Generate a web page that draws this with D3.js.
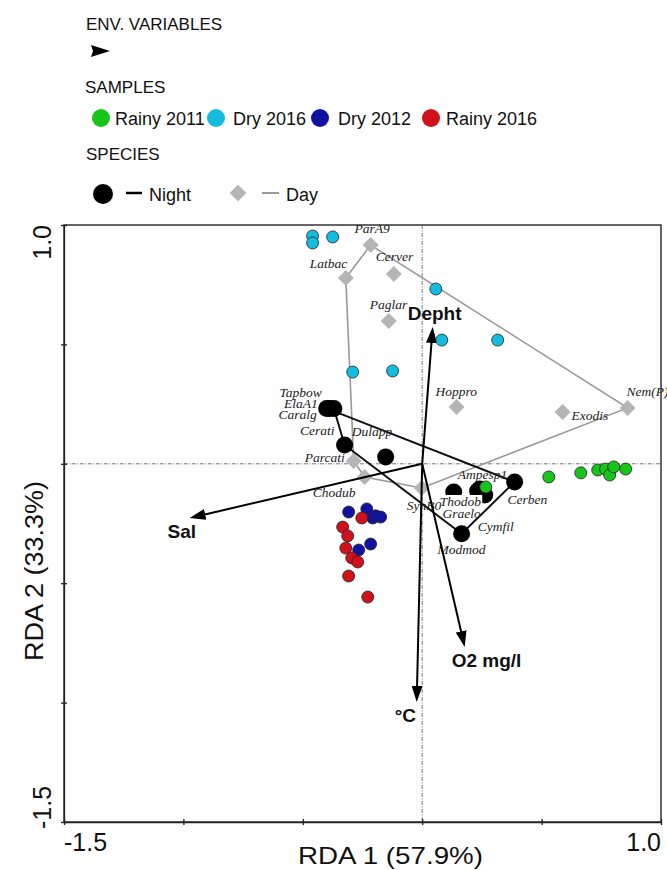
<!DOCTYPE html>
<html>
<head>
<meta charset="utf-8">
<script src="https://cdn.jsdelivr.net/npm/d3@7"></script>
<style>
  body { margin: 0; background: #fff; }
  svg { display: block; }
</style>
</head>
<body>
<div id="chart"></div>
<script>
// ---- data (RDA1, RDA2 scores) ----
const sampleGroups = ["Rainy 2011", "Dry 2016", "Dry 2012", "Rainy 2016"];
const rainy2011 = [[0.266,-0.097],[0.530,-0.055],[0.664,-0.038],[0.735,-0.026],[0.768,-0.022],[0.785,-0.047],[0.802,-0.013],[0.852,-0.022]];
const dry2016 = [[-0.459,0.954],[-0.459,0.925],[-0.375,0.950],[0.057,0.732],[0.082,0.518],[0.316,0.518],[-0.291,0.384],[-0.124,0.389]];
const dry2012 = [[-0.308,-0.202],[-0.232,-0.189],[-0.207,-0.227],[-0.195,-0.218],[-0.174,-0.223],[-0.266,-0.361],[-0.216,-0.336]];
const rainy2016 = [[-0.253,-0.227],[-0.333,-0.265],[-0.312,-0.302],[-0.320,-0.353],[-0.295,-0.394],[-0.270,-0.411],[-0.308,-0.470],[-0.228,-0.558]];

const nightSpecies = [["Tapbow",-0.400,0.232],["ElaA1",-0.387,0.232],["Caralg",-0.370,0.232],["Cerati",-0.325,0.079],
  ["Dulapp",-0.153,0.028],["Thodob",0.132,-0.118],["Ampesp1",0.241,-0.106],["Graelo",0.232,-0.114],
  ["Cymfil",0.262,-0.131],["Cerben",0.387,-0.076],["Modmod",0.165,-0.293]];
const daySpecies = [["ParA9",-0.216,0.916],["Latbac",-0.320,0.778],["Cerver",-0.119,0.795],["Paglar",-0.140,0.598],
  ["Hoppro",0.144,0.238],["Exodis",0.588,0.217],["Nem(P)",0.860,0.234],["Parcati",-0.287,0.012],
  ["Chodub",-0.241,-0.055],["SynB0",-0.002,-0.101]];

const nightHull = ["Tapbow","Cerben","Modmod","Cerati","Caralg"];
const dayHull = ["ParA9","Nem(P)","SynB0","Chodub","Parcati","Latbac"];

const envNames = ["Depht","Sal","O2 mg/l","°C"];
const envRda1 = [0.044,-0.974,0.178,-0.023];
const envRda2 = [0.573,-0.227,-0.767,-0.997];

const axisTicks = [-1.5,-1,-0.5,0,0.5,1];
const tickLabels = ["-1.5","1.0"];

// ---- layout ----
const colors = {"Rainy 2011":"#17c41a","Dry 2016":"#14bde0","Dry 2012":"#1212a2","Rainy 2016":"#d0111b"};
// label offsets from the point, in px [dx, dy, anchor]
const labelPos = {
  Tapbow:[-5,-11,"end"], ElaA1:[-12,0,"end"], Caralg:[-17,11,"end"], Cerati:[-10,-10,"end"],
  Dulapp:[-34,-21,"start"], Ampesp1:[-22,-10,"start"], Thodob:[-14,14,"start"], Graelo:[-35,27,"start"],
  Cymfil:[-7,36,"start"], Cerben:[-7,22,"start"], Modmod:[-24,20,"start"],
  ParA9:[-16,-12,"start"], Latbac:[-36,-10,"start"], Cerver:[-18,-13,"start"], Paglar:[-19,-12,"start"],
  Hoppro:[-21,-11,"start"], Exodis:[9,8,"start"], "Nem(P)":[-1,-12,"start"], Parcati:[-9,1,"end"],
  Chodub:[-52,20,"start"], SynB0:[-15,22,"start"]
};
const envLabelPos = {"Depht":[-25,-7],"Sal":[-22,20],"O2 mg/l":[-13,20],"°C":[-22,20]};

const W = 667, H = 870;
const svg = d3.select('#chart').append('svg').attr('width', W).attr('height', H);

const x = d3.scaleLinear().domain([-1.5, 1]).range([64, 661]);
const y = d3.scaleLinear().domain([-1.5, 1]).range([822, 225]);

// frame
svg.append('rect')
  .attr('x', x(-1.5)).attr('y', y(1))
  .attr('width', x(1) - x(-1.5)).attr('height', y(-1.5) - y(1))
  .attr('fill', 'none').attr('stroke', '#333').attr('stroke-width', 1.5);

// zero lines
svg.append('line').attr('x1', x(0)).attr('x2', x(0)).attr('y1', y(1)).attr('y2', y(-1.5))
  .attr('stroke', '#555').attr('stroke-width', 0.8).attr('stroke-dasharray', '4,1.5,1,1.5');
svg.append('line').attr('x1', x(-1.5)).attr('x2', x(1)).attr('y1', y(0)).attr('y2', y(0))
  .attr('stroke', '#555').attr('stroke-width', 0.8).attr('stroke-dasharray', '4,1.5,1,1.5');

// axes
const gx = svg.append('g').attr('transform', `translate(0,${y(-1.5)})`)
  .call(d3.axisBottom(x).tickValues(axisTicks).tickSize(3).tickSizeOuter(0).tickFormat(''));
gx.selectAll('.tick line').attr('y1', -3).attr('y2', 3).attr('stroke', '#222').attr('stroke-width', 1.3);
gx.select('.domain').attr('stroke', '#222').attr('stroke-width', 1.3);

const gy = svg.append('g').attr('transform', `translate(${x(-1.5)},0)`)
  .call(d3.axisLeft(y).tickValues(axisTicks).tickSize(3).tickSizeOuter(0).tickFormat(''));
gy.selectAll('.tick line').attr('x1', -3).attr('x2', 3).attr('stroke', '#222').attr('stroke-width', 1.3);
gy.select('.domain').attr('stroke', '#222').attr('stroke-width', 1.3);

const sans = 'Liberation Sans, Arial, sans-serif';
// tick labels
svg.append('text').attr('x', x(-1.5)).attr('y', 851).attr('text-anchor', 'start')
  .attr('font-family', sans).attr('font-size', 25).attr('fill', '#111').text(tickLabels[0]);
svg.append('text').attr('x', x(1)).attr('y', 851).attr('text-anchor', 'end')
  .attr('font-family', sans).attr('font-size', 25).attr('fill', '#111').text(tickLabels[1]);
svg.append('text').attr('transform', `translate(51,${y(1)}) rotate(-90)`).attr('text-anchor', 'end')
  .attr('font-family', sans).attr('font-size', 25).attr('fill', '#111').text(tickLabels[1]);
svg.append('text').attr('transform', `translate(51,${y(-1.5) + 7}) rotate(-90)`).attr('text-anchor', 'start')
  .attr('font-family', sans).attr('font-size', 25).attr('fill', '#111').text(tickLabels[0]);

// axis titles
svg.append('text').attr('x', 298).attr('y', 864)
  .attr('font-family', sans).attr('font-size', 24).attr('fill', '#111')
  .attr('textLength', 185).attr('lengthAdjust', 'spacingAndGlyphs').text('RDA 1 (57.9%)');
svg.append('text').attr('transform', 'translate(43,661) rotate(-90)')
  .attr('font-family', sans).attr('font-size', 25).attr('fill', '#111')
  .attr('textLength', 180).attr('lengthAdjust', 'spacingAndGlyphs').text('RDA 2 (33.3%)');

// species lookup
const spec = {};
nightSpecies.forEach(d => spec[d[0]] = d);
daySpecies.forEach(d => spec[d[0]] = d);

const line = d3.line().x(n => x(spec[n][1])).y(n => y(spec[n][2])).curve(d3.curveLinearClosed);

// day hull + diamonds
svg.append('path').attr('d', line(dayHull)).attr('fill', 'none')
  .attr('stroke', '#999').attr('stroke-width', 1.6);
const diamond = d3.symbol(d3.symbolSquare, 128);
svg.append('g').selectAll('path').data(daySpecies).join('path')
  .attr('d', diamond)
  .attr('transform', d => `translate(${x(d[1])},${y(d[2])}) rotate(45)`)
  .attr('fill', '#b5b5b5');

// night hull + circles
svg.append('path').attr('d', line(nightHull)).attr('fill', 'none')
  .attr('stroke', '#111').attr('stroke-width', 2);
svg.append('g').selectAll('circle').data(nightSpecies).join('circle')
  .attr('cx', d => x(d[1])).attr('cy', d => y(d[2])).attr('r', 8.5)
  .attr('fill', '#000');

// species labels
const labelBg = new Set(["Thodob"]);
const labels = svg.append('g');
nightSpecies.concat(daySpecies).forEach(d => {
  const p = labelPos[d[0]];
  const t = labels.append('text')
    .attr('x', x(d[1]) + p[0]).attr('y', y(d[2]) + p[1])
    .attr('text-anchor', p[2])
    .attr('font-family', 'Liberation Serif, Times New Roman, serif')
    .attr('font-style', 'italic').attr('font-size', 13.5).attr('fill', '#222')
    .text(d[0]);
  if (labelBg.has(d[0])) {
    const b = t.node().getBBox();
    labels.insert('rect', () => t.node())
      .attr('x', b.x - 1).attr('y', b.y + 1).attr('width', b.width + 2).attr('height', b.height)
      .attr('fill', '#fff');
  }
});

// environmental arrows
svg.append('defs').append('marker')
  .attr('id', 'head').attr('markerUnits', 'userSpaceOnUse')
  .attr('markerWidth', 16).attr('markerHeight', 11)
  .attr('refX', 8).attr('refY', 5.5).attr('orient', 'auto')
  .append('path').attr('d', 'M0,0 L16,5.5 L0,11 Z').attr('fill', '#000');

envNames.forEach((name, i) => {
  const x1 = x(envRda1[i]), y1 = y(envRda2[i]);
  const x0 = x(0), y0 = y(0);
  const len = Math.hypot(x1 - x0, y1 - y0);
  const ex = x1 - (x1 - x0) / len * 8, ey = y1 - (y1 - y0) / len * 8;
  svg.append('line').attr('x1', x0).attr('y1', y0).attr('x2', ex).attr('y2', ey)
    .attr('stroke', '#000').attr('stroke-width', 2).attr('marker-end', 'url(#head)');
  const lp = envLabelPos[name];
  svg.append('text').attr('x', x1 + lp[0]).attr('y', y1 + lp[1])
    .attr('font-family', sans).attr('font-weight', 'bold').attr('font-size', 19)
    .attr('fill', '#111').text(name);
});

// samples
[rainy2011, dry2016, dry2012, rainy2016].forEach((pts, i) => {
  svg.append('g').selectAll('circle').data(pts).join('circle')
    .attr('cx', d => x(d[0])).attr('cy', d => y(d[1])).attr('r', 6)
    .attr('fill', colors[sampleGroups[i]])
    .attr('stroke', '#222').attr('stroke-width', 0.8);
});

// ---- legend ----
const lg = svg.append('g').attr('font-family', sans).attr('fill', '#111');
lg.append('text').attr('x', 86).attr('y', 30).attr('font-size', 17).text('ENV. VARIABLES');
lg.append('path').attr('d', 'M91,45 L110,51 L91,57 L93,51 Z').attr('fill', '#000');
lg.append('text').attr('x', 85).attr('y', 93).attr('font-size', 17).text('SAMPLES');

const legX = [101, 216, 320, 431];
const legTextX = [115, 233, 338, 446];
sampleGroups.forEach((g, i) => {
  lg.append('circle').attr('cx', legX[i]).attr('cy', 118).attr('r', 9).attr('fill', colors[g]);
  lg.append('text').attr('x', legTextX[i]).attr('y', 125).attr('font-size', 18).text(g);
});

lg.append('text').attr('x', 86).attr('y', 160).attr('font-size', 17).text('SPECIES');
lg.append('circle').attr('cx', 103).attr('cy', 194).attr('r', 10).attr('fill', '#000');
lg.append('line').attr('x1', 126).attr('x2', 142).attr('y1', 193).attr('y2', 193)
  .attr('stroke', '#000').attr('stroke-width', 2.5);
lg.append('text').attr('x', 149).attr('y', 201).attr('font-size', 18).text('Night');
lg.append('path').attr('d', d3.symbol(d3.symbolSquare, 140)())
  .attr('transform', 'translate(238,193) rotate(45)').attr('fill', '#b5b5b5');
lg.append('line').attr('x1', 262).attr('x2', 279).attr('y1', 193).attr('y2', 193)
  .attr('stroke', '#999').attr('stroke-width', 2);
lg.append('text').attr('x', 286).attr('y', 201).attr('font-size', 18).text('Day');
</script>
</body>
</html>
